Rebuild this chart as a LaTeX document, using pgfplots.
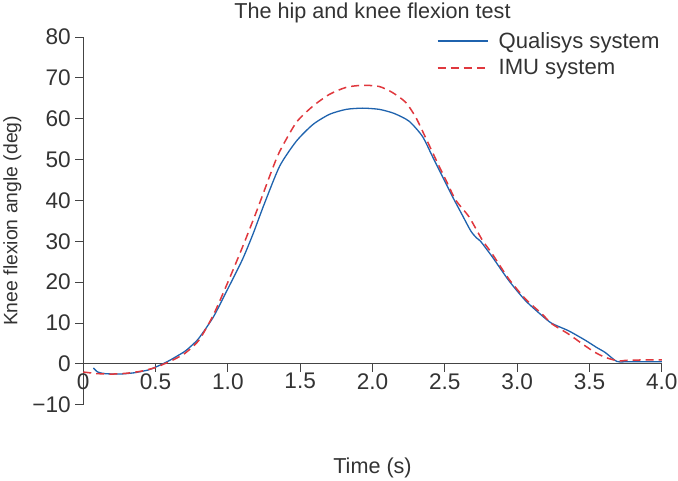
\documentclass[border=0pt]{standalone}
\usepackage{fontspec}
\setmainfont{Liberation Sans}
\usepackage{pgfplots}
\pgfplotsset{compat=1.18}
\definecolor{qualblue}{HTML}{1F63AE}
\definecolor{imured}{HTML}{E0383E}
\definecolor{axgray}{HTML}{444444}
\definecolor{txtgray}{HTML}{333333}

\begin{document}
\begin{tikzpicture}
\begin{axis}[
  width=576pt, height=366pt, scale only axis,
  xmin=0, xmax=4, ymin=-10, ymax=80,
  axis lines*=left,
  axis x line shift=-40.67pt,
  axis line style={-, draw=axgray, line width=0.9pt},
  xtick={0,0.5,...,4}, xticklabels={0,0.5,1.0,1.5,2.0,2.5,3.0,3.5,4.0},
  ytick={-10,0,...,80}, yticklabels={−10,0,10,20,30,40,50,60,70,80},
  tick align=outside, xtick align=outside, ytick align=outside,
  major tick length=8pt,
  tick style={axgray, line width=0.9pt},
  ticklabel style={font=\fontsize{22.5}{26}\selectfont, text=txtgray},
  xticklabel style={yshift=2pt, inner xsep=0.5pt},
  yticklabel style={xshift=-1pt},
  title={The hip and knee flexion test},
  title style={font=\fontsize{21.5}{24}\selectfont, text=txtgray,
               at={(rel axis cs:0.5,1)}, anchor=base, yshift=12pt},
  xlabel={Time (s)},
  xlabel style={font=\fontsize{21.5}{24}\selectfont, text=txtgray,
                at={(rel axis cs:0.5,0)}, anchor=north, yshift=-49pt},
  ylabel={Knee flexion angle (deg)},
  ylabel style={font=\fontsize{19.3}{22}\selectfont, text=txtgray, yshift=4pt},
  legend style={at={(rel axis cs:1.005,1.025)}, anchor=north east,
                draw=none, fill=none, font=\fontsize{22}{25}\selectfont,
                text=txtgray, row sep=6pt},
  legend cell align=left,
  legend image code/.code={\draw[#1] (0pt,0pt) -- (50pt,0pt); \path (58pt,0pt);},
  clip=false,
]
\addplot[qualblue, line width=1.3pt, smooth, tension=0.4] coordinates {
  (0.07,-1.0)(0.10,-2.0)(0.15,-2.4)(0.25,-2.5)(0.35,-2.2)(0.45,-1.5)
  (0.50,-0.8)(0.55,0.0)(0.60,0.9)(0.70,3.0)(0.75,4.5)(0.80,6.3)
  (0.90,11.5)(1.00,18.4)(1.10,25.5)(1.175,31.9)(1.25,39.0)(1.358,48.4)
  (1.473,54.5)(1.588,58.6)(1.703,61.1)(1.818,62.3)(1.932,62.6)(2.047,62.3)
  (2.15,61.3)(2.253,59.4)(2.345,55.7)(2.414,50.8)(2.483,45.9)(2.552,41.0)
  (2.621,36.4)(2.68,32.5)(2.72,30.8)(2.747,30.0)(2.828,26.2)(2.942,20.4)
  (3.057,15.5)(3.172,11.8)(3.24,9.9)(3.355,8.1)(3.47,5.8)(3.55,4.0)
  (3.608,2.8)(3.688,0.6)(3.75,0.5)(4.0,0.5)
};
\addlegendentry{Qualisys system}
\addplot[imured, line width=1.5pt, dash pattern=on 8pt off 5pt, smooth, tension=0.4] coordinates {
  (0.0,-2.0)(0.1,-2.4)(0.2,-2.5)(0.3,-2.3)(0.4,-1.8)(0.5,-0.9)(0.56,0.0)
  (0.6,0.6)(0.7,2.5)(0.8,5.8)(0.9,12.0)(1.0,20.0)(1.1,28.5)(1.2,37.5)
  (1.3,47.0)(1.358,52.0)(1.473,59.1)(1.588,63.1)(1.703,66.0)(1.818,67.7)
  (1.932,68.2)(2.047,67.9)(2.139,66.4)(2.23,64.0)(2.3,60.3)(2.368,55.3)
  (2.46,48.4)(2.506,45.1)(2.575,40.1)(2.667,36.0)(2.759,30.3)(2.828,26.9)
  (2.942,20.8)(3.057,15.9)(3.172,12.2)(3.24,9.8)(3.355,7.3)(3.47,4.4)
  (3.539,2.8)(3.608,1.6)(3.70,0.7)(3.77,0.9)(4.0,1.0)
};
\addlegendentry{IMU system}
\end{axis}
\end{tikzpicture}
\end{document}
